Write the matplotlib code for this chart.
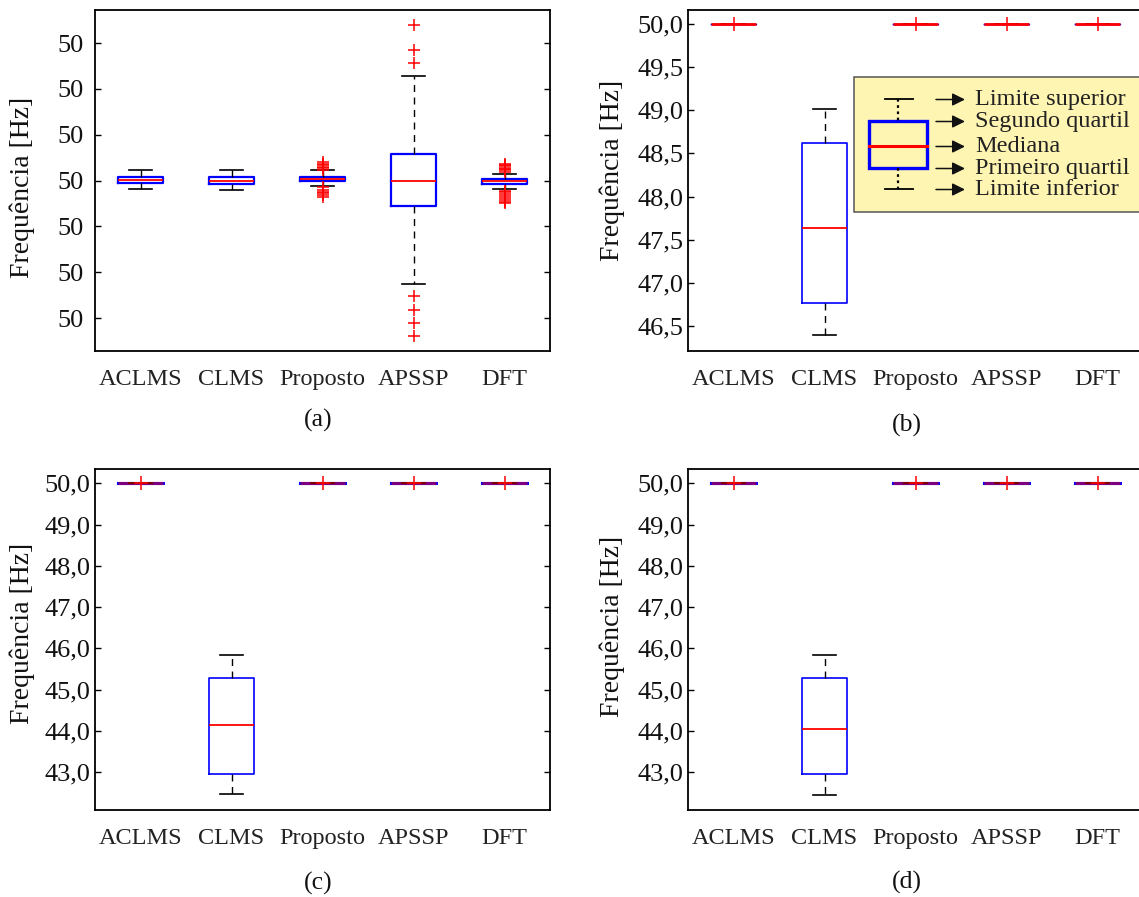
import matplotlib
matplotlib.use("Agg")
import matplotlib.pyplot as plt
from matplotlib.ticker import FuncFormatter
from matplotlib.patches import Rectangle, FancyArrowPatch
from matplotlib.lines import Line2D

plt.rcParams['font.family'] = ['Liberation Serif', 'DejaVu Serif']

# ---------------- data ----------------
methods = ["ACLMS", "CLMS", "Proposto", "APSSP", "DFT"]
captions = ["(a)", "(b)", "(c)", "(d)"]
ylabel = "Frequência [Hz]"

# Panel (a) - values in Hz (tiny deviations around 50 Hz)
a_whislo = [49.99982, 49.99980, 49.99987, 49.99775, 49.99981]
a_q1     = [49.99995, 49.99993, 50.00000, 49.99944, 49.99993]
a_med    = [50.00002, 50.00000, 50.00004, 50.00000, 50.00000]
a_q3     = [50.00007, 50.00007, 50.00007, 50.00057, 50.00003]
a_whishi = [50.00024, 50.00022, 50.00022, 50.00227, 50.00015]
a_fliers = [
    [],
    [],
    [50.00024, 50.00027, 50.00030, 50.00033, 50.00036, 50.00040,
     49.99985, 49.99980, 49.99976, 49.99972, 49.99968, 49.99964],
    [50.00340, 50.00284, 50.00256, 49.99747, 49.99718, 49.99690, 49.99660],
    [50.00019, 50.00022, 50.00025, 50.00028, 50.00031, 50.00034, 50.00037,
     49.99978, 49.99974, 49.99970, 49.99966, 49.99962, 49.99958, 49.99954, 49.99952],
]
a_ticks = [49.997, 49.998, 49.999, 50.000, 50.001, 50.002, 50.003]

# Panel (b)
b_whislo = [50.0, 46.40, 50.0, 50.0, 50.0]
b_q1     = [50.0, 46.77, 50.0, 50.0, 50.0]
b_med    = [50.0, 47.64, 50.0, 50.0, 50.0]
b_q3     = [50.0, 48.62, 50.0, 50.0, 50.0]
b_whishi = [50.0, 49.02, 50.0, 50.0, 50.0]
b_fliers = [[50.0], [], [50.0], [50.0], [50.0]]
b_ticks = [46.5, 47.0, 47.5, 48.0, 48.5, 49.0, 49.5, 50.0]

# Panel (c)
c_whislo = [50.0, 42.46, 50.0, 50.0, 50.0]
c_q1     = [50.0, 42.96, 50.0, 50.0, 50.0]
c_med    = [50.0, 44.13, 50.0, 50.0, 50.0]
c_q3     = [50.0, 45.29, 50.0, 50.0, 50.0]
c_whishi = [50.0, 45.83, 50.0, 50.0, 50.0]
c_fliers = [[50.0], [], [50.0], [50.0], [50.0]]
c_ticks = [43.0, 44.0, 45.0, 46.0, 47.0, 48.0, 49.0, 50.0]

# Panel (d)
d_whislo = [50.0, 42.45, 50.0, 50.0, 50.0]
d_q1     = [50.0, 42.96, 50.0, 50.0, 50.0]
d_med    = [50.0, 44.05, 50.0, 50.0, 50.0]
d_q3     = [50.0, 45.28, 50.0, 50.0, 50.0]
d_whishi = [50.0, 45.83, 50.0, 50.0, 50.0]
d_fliers = [[50.0], [], [50.0], [50.0], [50.0]]
d_ticks = [43.0, 44.0, 45.0, 46.0, 47.0, 48.0, 49.0, 50.0]

legend_labels = ["Limite superior", "Segundo quartil", "Mediana",
                 "Primeiro quartil", "Limite inferior"]

# ---------------- figure ----------------
W, H = 1139, 897
fig = plt.figure(figsize=(W / 100, H / 100), dpi=100)


def axes_px(x0, y0, x1, y1):
    return fig.add_axes([x0 / W, 1 - y1 / H, (x1 - x0) / W, (y1 - y0) / H])


def stats(whislo, q1, med, q3, whishi, fliers):
    out = []
    for i in range(len(med)):
        out.append(dict(whislo=whislo[i], q1=q1[i], med=med[i], q3=q3[i],
                        whishi=whishi[i], fliers=fliers[i], label=methods[i]))
    return out


panels = [
    dict(rect=(95, 10, 550, 351), st=stats(a_whislo, a_q1, a_med, a_q3, a_whishi, a_fliers),
         ylim=(49.99628, 50.00372), ticks=a_ticks, fmt=lambda v, p: "%.0f" % v,
         pad=8.5, box_lw=1.6, ms=8, med_alpha=1.0, flat_box_lw=1.6, flat_med_lw=1.3,
         right=True, ylab=(-0.160, 0.481), cap=(318, 420)),
    dict(rect=(688, 10, 1143, 351), st=stats(b_whislo, b_q1, b_med, b_q3, b_whishi, b_fliers),
         ylim=(46.21, 50.162), ticks=b_ticks, fmt=lambda v, p: ("%.1f" % v).replace(".", ","),
         pad=3.5, box_lw=1.2, ms=10, med_alpha=1.0, flat_box_lw=1.0, flat_med_lw=2.0,
         right=False, ylab=(-0.167, 0.53), cap=(907, 425)),
    dict(rect=(95, 469, 550, 810), st=stats(c_whislo, c_q1, c_med, c_q3, c_whishi, c_fliers),
         ylim=(42.079, 50.347), ticks=c_ticks, fmt=lambda v, p: ("%.1f" % v).replace(".", ","),
         pad=3.5, box_lw=1.2, ms=10, med_alpha=0.5, flat_box_lw=2.2, flat_med_lw=2.2,
         right=True, ylab=(-0.160, 0.519), cap=(318, 883)),
    dict(rect=(688, 469, 1143, 810), st=stats(d_whislo, d_q1, d_med, d_q3, d_whishi, d_fliers),
         ylim=(42.079, 50.347), ticks=d_ticks, fmt=lambda v, p: ("%.1f" % v).replace(".", ","),
         pad=3.5, box_lw=1.2, ms=10, med_alpha=0.5, flat_box_lw=2.2, flat_med_lw=2.2,
         right=False, ylab=(-0.167, 0.538), cap=(907, 882)),
]

for k, pnl in enumerate(panels):
    ax = axes_px(*pnl['rect'])
    res = ax.bxp(pnl['st'], positions=[1, 2, 3, 4, 5], widths=0.5, showfliers=True,
                 boxprops=dict(color='#0000FF', linewidth=pnl['box_lw']),
                 medianprops=dict(color='#FF0000', linewidth=1.3),
                 whiskerprops=dict(color='black', linewidth=1.0, linestyle=(0, (5, 4))),
                 capprops=dict(color='black', linewidth=1.2),
                 flierprops=dict(marker='+', markeredgecolor='#FF0000', markersize=pnl['ms'],
                                 markeredgewidth=1.1, linestyle='none'))
    # collapsed boxes at 50 Hz
    for s, medline, boxline in zip(pnl['st'], res['medians'], res['boxes']):
        if s['q1'] == s['q3']:
            medline.set_alpha(pnl['med_alpha'])
            medline.set_linewidth(pnl['flat_med_lw'])
            boxline.set_linewidth(pnl['flat_box_lw'])
    ax.set_xlim(0.5, 5.5)
    ax.set_ylim(*pnl['ylim'])
    ax.set_yticks(pnl['ticks'])
    ax.yaxis.set_major_formatter(FuncFormatter(pnl['fmt']))
    ax.set_xticks([1, 2, 3, 4, 5])
    ax.set_xticklabels(methods, fontsize=17.5, color='#222222')
    ax.tick_params(axis='x', length=0, pad=13)
    ax.tick_params(axis='y', direction='in', length=4.5, width=1, right=pnl['right'],
                   labelsize=19, pad=pnl['pad'], labelcolor='#111111')
    for s in ax.spines.values():
        s.set_linewidth(1.3)
    ax.set_ylabel(ylabel, fontsize=20, color='#111111', va='center')
    ax.yaxis.set_label_coords(*pnl['ylab'])
    cx, cy = pnl['cap']
    fig.text(cx / W, 1 - cy / H, captions[k], fontsize=18.5, ha='center', va='center',
             color='#111111')

# ---------------- schematic legend in panel (b) ----------------
tf = fig.transFigure


def P(x, y):
    return (x / W, 1 - y / H)


yellow = '#FFF5B3'
bx0, by0, bx1, by1 = 854, 77.5, 1160, 212.5
fig.add_artist(Rectangle(P(bx0, by1), (bx1 - bx0) / W, (by1 - by0) / H, transform=tf,
                         facecolor=yellow, edgecolor='#555555', linewidth=1.1, zorder=5))
# small boxplot glyph
fig.add_artist(Rectangle(P(869, 167.5), (927 - 869) / W, (167.5 - 121) / H, transform=tf,
                         facecolor=yellow, edgecolor='#0000FF', linewidth=2.4, zorder=6))
fig.add_artist(Line2D([869 / W, 927 / W], [1 - 146.5 / H] * 2, transform=tf,
                      color='#FF0000', linewidth=2.2, zorder=7))
fig.add_artist(Line2D([898 / W] * 2, [1 - 99.5 / H, 1 - 121 / H], transform=tf,
                      color='black', linewidth=1.6, linestyle=(0, (1.2, 1.6)), zorder=6))
fig.add_artist(Line2D([898 / W] * 2, [1 - 167.5 / H, 1 - 189 / H], transform=tf,
                      color='black', linewidth=1.6, linestyle=(0, (1.2, 1.6)), zorder=6))
for yy in (99.5, 189):
    fig.add_artist(Line2D([885 / W, 913 / W], [1 - yy / H] * 2, transform=tf,
                          color='black', linewidth=1.3, zorder=6))
arrow_y = [99.5, 121.5, 146.5, 168.5, 189.5]
for yy, lab in zip(arrow_y, legend_labels):
    fig.add_artist(FancyArrowPatch(P(936, yy), P(965, yy), transform=tf,
                                   arrowstyle='-|>', mutation_scale=19, linewidth=1.1,
                                   color='#111111', shrinkA=0, shrinkB=0, zorder=7))
    fig.text(975 / W, 1 - yy / H, lab, fontsize=17.5, ha='left', va='center',
             color='#222222', zorder=8)

fig.savefig("out.png", dpi=100)
